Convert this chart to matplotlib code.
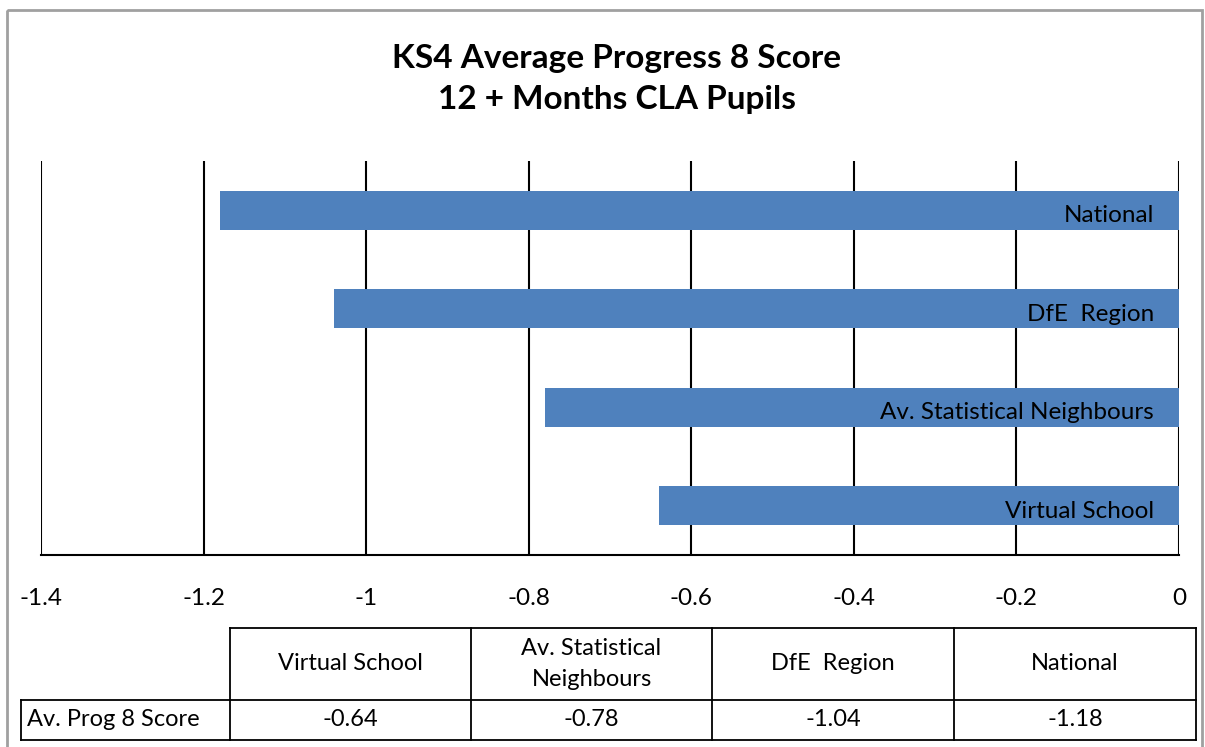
import matplotlib
matplotlib.use("Agg")
import matplotlib.pyplot as plt
from matplotlib.patches import Rectangle

# data
categories = ["Virtual School", "Av. Statistical Neighbours", "DfE  Region", "National"]
table_headers = ["Virtual School", "Av. Statistical\nNeighbours", "DfE  Region", "National"]
scores = [-0.64, -0.78, -1.04, -1.18]
row_label = "Av. Prog 8 Score"
xticks = [-1.4, -1.2, -1.0, -0.8, -0.6, -0.4, -0.2, 0]
xtick_labels = ["-1.4", "-1.2", "-1", "-0.8", "-0.6", "-0.4", "-0.2", "0"]

plt.rcParams["font.family"] = ["Lato", "DejaVu Sans"]

W, H = 1205, 747
fig = plt.figure(figsize=(W / 100, H / 100), dpi=100)

# overlay axes in pixel coords for the frame and the data table
over = fig.add_axes([0, 0, 1, 1])
over.set_xlim(0, W)
over.set_ylim(H, 0)
over.axis("off")
over.add_patch(Rectangle((7, 10), 1195, 760, fill=False, edgecolor="#A0A0A0", lw=2))

# main bar chart
ax = fig.add_axes([41 / W, 1 - 555 / H, (1179 - 41) / W, (555 - 161) / H])
ypos = list(range(len(categories)))
ax.barh(ypos, scores, height=0.4, color="#4F81BD", zorder=3)
ax.set_xlim(-1.4, 0)
ax.set_ylim(-0.5, len(categories) - 0.5)
ax.set_xticks(xticks)
ax.set_xticklabels(xtick_labels)
ax.set_yticks([])
ax.tick_params(axis="x", length=0, pad=24, labelsize=17.5)
for x in xticks:
    ax.axvline(x, color="black", lw=1.5, zorder=2)
for s in ["top", "right", "left"]:
    ax.spines[s].set_visible(False)
ax.spines["bottom"].set_linewidth(1.5)
for i, name in enumerate(categories):
    ax.annotate(name, xy=(0, ypos[i]), xytext=(-18, -4), textcoords="offset points",
                ha="right", va="center", fontsize=17.5, color="black", zorder=4)

fig.text(617 / W, 1 - 79 / H, "KS4 Average Progress 8 Score\n12 + Months CLA Pupils",
         ha="center", va="center", fontsize=24, fontweight="bold", linespacing=1.5)

# data table
col_x = [230, 471, 712, 954, 1196]
row_y = [628, 700, 740]
lab_x = 21
lw = 1.3
over.plot([col_x[0], col_x[-1]], [row_y[0], row_y[0]], color="black", lw=lw)
over.plot([lab_x, col_x[-1]], [row_y[1], row_y[1]], color="black", lw=lw)
over.plot([lab_x, col_x[-1]], [row_y[2], row_y[2]], color="black", lw=lw)
for x in col_x:
    over.plot([x, x], [row_y[0], row_y[2]], color="black", lw=lw)
over.plot([lab_x, lab_x], [row_y[1], row_y[2]], color="black", lw=lw)
over.text(lab_x + 6, (row_y[1] + row_y[2]) / 2, row_label, ha="left", va="center", fontsize=17)
for j in range(len(scores)):
    cx = (col_x[j] + col_x[j + 1]) / 2
    over.text(cx, (row_y[0] + row_y[1]) / 2, table_headers[j], ha="center", va="center",
              fontsize=17, linespacing=1.55)
    over.text(cx, (row_y[1] + row_y[2]) / 2, "%.2f" % scores[j], ha="center", va="center",
              fontsize=17)

fig.savefig("out.png", dpi=100)
